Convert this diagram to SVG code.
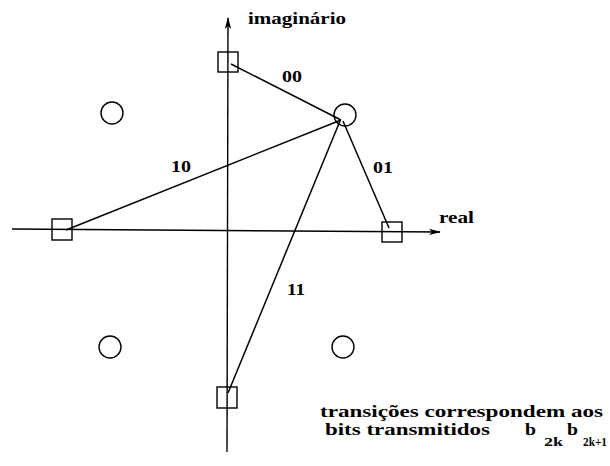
<svg xmlns="http://www.w3.org/2000/svg" width="610" height="466" viewBox="0 0 610 466">
<style>
.ax{stroke:#000;stroke-width:1.4;fill:none}
.ln{stroke:#000;stroke-width:1.5;fill:none}
.sq{stroke:#000;stroke-width:1.4;fill:none}
.ci{stroke:#000;stroke-width:1.4;fill:none}
.t{font-family:"Liberation Serif",Tinos,"Times New Roman",Times,serif;font-weight:700;fill:#000}
.lb{font-size:16px}
.cap{font-size:17px}
.sub{font-size:12px}
</style>
<defs>
<marker id="arr" viewBox="0 0 12 8" refX="11" refY="4" markerWidth="12" markerHeight="8" markerUnits="userSpaceOnUse" orient="auto">
<path d="M0,0.8 L12,4 L0,7.2 L3,4 Z" fill="#000"/>
</marker>
</defs>
<g id="axes">
<line class="ax" x1="227" y1="452" x2="228" y2="18" marker-end="url(#arr)"/>
<line class="ax" x1="12" y1="229" x2="440" y2="232" marker-end="url(#arr)"/>
<text class="t lb" x="248" y="24" textLength="98" lengthAdjust="spacingAndGlyphs">imaginário</text>
<text class="t lb" x="439" y="223" textLength="35" lengthAdjust="spacingAndGlyphs">real</text>
</g>
<g id="connectors">
<line class="ln" x1="341" y1="120" x2="231" y2="64"/>
<line class="ln" x1="341" y1="120" x2="66" y2="230"/>
<line class="ln" x1="343" y1="121" x2="389" y2="228"/>
<line class="ln" x1="340" y1="121" x2="228" y2="393"/>
<text class="t lb" x="282" y="82" textLength="20" lengthAdjust="spacingAndGlyphs">00</text>
<text class="t lb" x="171" y="172" textLength="20" lengthAdjust="spacingAndGlyphs">10</text>
<text class="t lb" x="373" y="173" textLength="20" lengthAdjust="spacingAndGlyphs">01</text>
<text class="t lb" x="287" y="295" textLength="18" lengthAdjust="spacingAndGlyphs">11</text>
</g>
<g id="node-s-top"><rect class="sq" x="218" y="52" width="20" height="20"/></g>
<g id="node-s-left"><rect class="sq" x="52" y="219" width="20" height="21"/></g>
<g id="node-s-right"><rect class="sq" x="382" y="222" width="20" height="20"/></g>
<g id="node-s-bottom"><rect class="sq" x="217" y="387" width="20" height="21"/></g>
<g id="node-c-tr"><circle class="ci" cx="345" cy="115" r="11"/></g>
<g id="node-c-tl"><circle class="ci" cx="112" cy="113" r="11"/></g>
<g id="node-c-bl"><circle class="ci" cx="110" cy="347" r="11"/></g>
<g id="node-c-br"><circle class="ci" cx="343" cy="347" r="11"/></g>
<g id="caption">
<text class="t cap" x="320" y="417" textLength="283" lengthAdjust="spacingAndGlyphs">transições correspondem aos</text>
<text class="t cap" x="325" y="435" textLength="165" lengthAdjust="spacingAndGlyphs">bits transmitidos</text>
<text class="t cap" x="525" y="435" textLength="11" lengthAdjust="spacingAndGlyphs">b</text>
<text class="t sub" x="544" y="446" textLength="19" lengthAdjust="spacingAndGlyphs">2k</text>
<text class="t cap" x="567" y="435" textLength="11" lengthAdjust="spacingAndGlyphs">b</text>
<text class="t sub" x="583" y="446" textLength="24" lengthAdjust="spacingAndGlyphs">2k+1</text>
</g>
</svg>
